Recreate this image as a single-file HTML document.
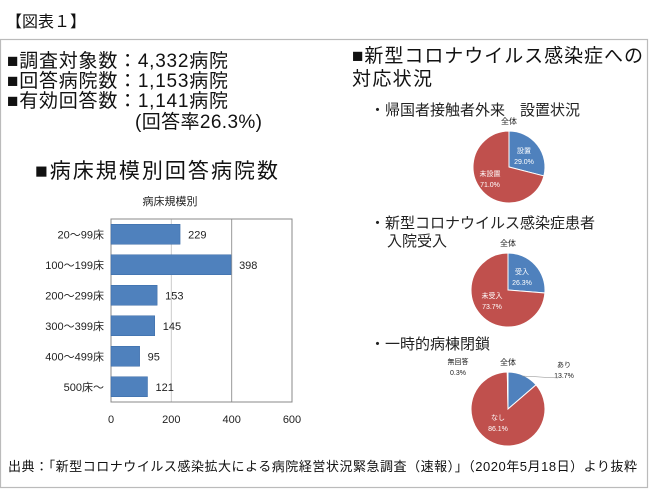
<!DOCTYPE html>
<html><head><meta charset="utf-8"><style>
body{margin:0;background:#fff}
svg{display:block;font-family:"Liberation Sans","Noto Sans CJK JP",sans-serif}
</style></head><body>
<svg width="650" height="490" viewBox="0 0 650 490">
<text x="6" y="27" font-size="16" fill="#111">【図表１】</text>
<rect x="0.5" y="39.5" width="647" height="448" fill="none" stroke="#bbb" stroke-width="1.2"/>
<g font-size="19" fill="#111">
<text x="7" y="67" textLength="221" lengthAdjust="spacing">■調査対象数：4,332病院</text>
<text x="7" y="87" textLength="221" lengthAdjust="spacing">■回答病院数：1,153病院</text>
<text x="7" y="107" textLength="221" lengthAdjust="spacing">■有効回答数：1,141病院</text>
<text x="135" y="128" textLength="127" lengthAdjust="spacing">(回答率26.3%)</text>
</g>
<text x="35" y="178" font-size="21" fill="#111" textLength="243" lengthAdjust="spacing">■病床規模別回答病院数</text>
<text x="170" y="205" font-size="11" fill="#222" text-anchor="middle">病床規模別</text>
<g id="bars"></g>
<g font-size="19" fill="#111">
<text x="352" y="62" textLength="291" lengthAdjust="spacing">■新型コロナウイルス感染症への</text>
<text x="352" y="85" textLength="80" lengthAdjust="spacing">対応状況</text>
</g>
<g font-size="15" fill="#222">
<text x="370" y="115">・帰国者接触者外来　設置状況</text>
<text x="370" y="228">・新型コロナウイルス感染症患者</text>
<text x="387" y="246">入院受入</text>
<text x="370" y="349">・一時的病棟閉鎖</text>
</g>
<g id="pies"></g>
<text x="8" y="471" font-size="13" fill="#111" textLength="629" lengthAdjust="spacing">出典：「新型コロナウイルス感染拡大による病院経営状況緊急調査（速報）」（2020年5月18日）より抜粋</text>
</svg>
<script>
const categories=["20～99床","100～199床","200～299床","300～399床","400～499床","500床～"];
const values=[229,398,153,145,95,121];
const xTicks=[0,200,400,600];
const pie1Labels=["設置","未設置"];
const pie1Values=[29.0,71.0];
const pie2Labels=["受入","未受入"];
const pie2Values=[26.3,73.7];
const pie3Labels=["あり","なし","無回答"];
const pie3Values=[13.7,86.1,0.3];
const NS="http://www.w3.org/2000/svg";
function mk(t,a,p){const e=document.createElementNS(NS,t);for(const k in a)e.setAttribute(k,a[k]);p.appendChild(e);return e;}
const g=document.getElementById('bars');
const X0=111,X1=292,Y0=219,Y1=402;
const xs=v=>X0+(v/600)*(X1-X0);
const band=(Y1-Y0)/categories.length;
xTicks.forEach(t=>{
 if(t>0){const l=mk('line',{x1:xs(t),x2:xs(t),y1:Y0,y2:Y1,stroke:t===400?'#999':'#ccc'},g);
 
 }
 const tx=mk('text',{x:xs(t),y:423,'font-size':11,'text-anchor':'middle',fill:'#222'},g);tx.textContent=t;
 
 
});
const fr=mk('rect',{x:X0,y:Y0,width:X1-X0,height:Y1-Y0,fill:'none',stroke:'#888'},g);


categories.forEach((c,i)=>{
 const cy=Y0+band*(i+0.5);
 const r=mk('rect',{x:X0,y:cy-10,width:xs(values[i])-X0,height:20,fill:'#4f81bd',stroke:'#3a6aa6','stroke-width':0.5},g);
 
 
 const l=mk('text',{x:104,y:cy+4,'font-size':11,'text-anchor':'end',fill:'#222'},g);l.textContent=c;
 
 
 const v=mk('text',{x:xs(values[i])+8,y:cy+4,'font-size':11,fill:'#222'},g);v.textContent=values[i];
 
 
});
const pg=document.getElementById('pies');
const colors=['#4f81bd','#c0504d','#9bbb59'];
function pie(vals,labels,cx,cy,r,labelPos){
 const tot=vals.reduce((a,b)=>a+b,0);let a0=-Math.PI/2;
 const t=mk('text',{x:cx,y:cy-r-7,'font-size':8,'text-anchor':'middle',fill:'#222'},pg);t.textContent='全体';
 
 
 vals.forEach((v,i)=>{
  const a1=a0+v/tot*2*Math.PI;
  const large=(a1-a0)>Math.PI?1:0;
  const d=`M${cx},${cy} L${cx+r*Math.cos(a0)},${cy+r*Math.sin(a0)} A${r},${r} 0 ${large} 1 ${cx+r*Math.cos(a1)},${cy+r*Math.sin(a1)} Z`;
  const p=mk('path',{d:d,fill:colors[i],stroke:'#fff','stroke-width':1},pg);
  
  
  const lp=labelPos[i];
  if(lp){
   const l1=mk('text',{x:lp[0],y:lp[1],'font-size':7,'text-anchor':'middle',fill:lp[2]},pg);l1.textContent=labels[i];
   
   
   const l2=mk('text',{x:lp[0],y:lp[1]+11,'font-size':7,'text-anchor':'middle',fill:lp[2]},pg);l2.textContent=v.toFixed(1)+'%';
   
   
  }
  a0=a1;
 });
}
pie(pie1Values,pie1Labels,509,167,36,[[524,153,'#fff'],[490,176,'#fff']]);
pie(pie2Values,pie2Labels,508,290,37,[[522,274,'#fff'],[492,298,'#fff']]);
pie(pie3Values,pie3Labels,508,409,37,[[564,367,'#222'],[498,420,'#fff'],[458,364,'#222']]);
const ln=mk('polyline',{points:'522,376 558,378',stroke:'#888',fill:'none','stroke-width':0.6},pg);


</script>
</body></html>
